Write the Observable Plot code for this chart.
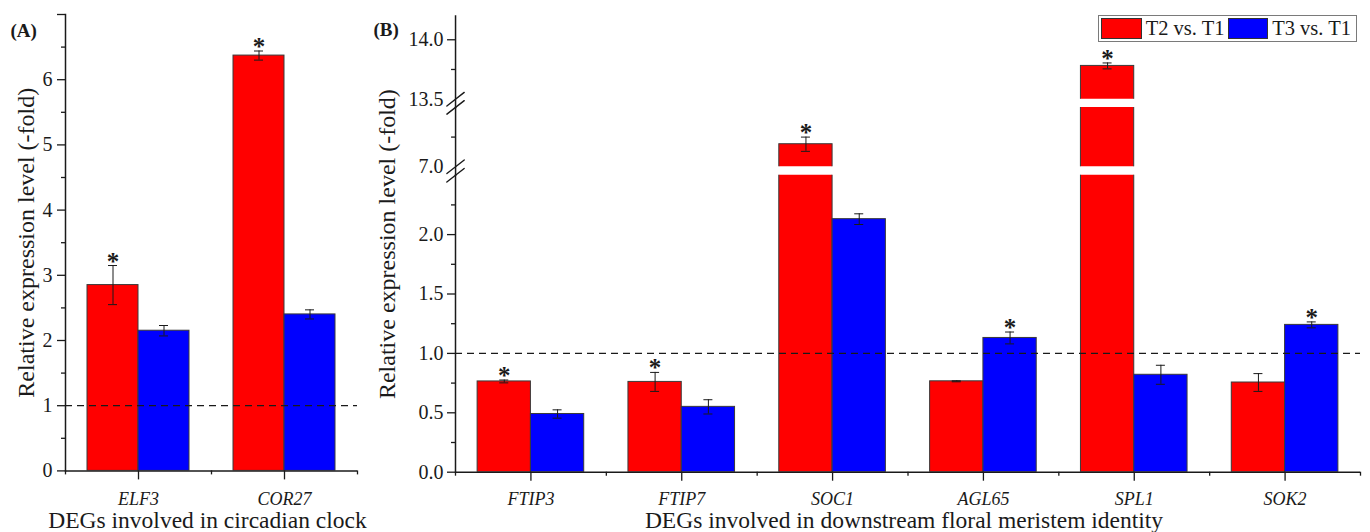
<!DOCTYPE html>
<html>
<head>
<meta charset="utf-8">
<script src="https://cdn.jsdelivr.net/npm/d3@7"></script>
<script src="https://cdn.jsdelivr.net/npm/@observablehq/plot@0.6"></script>
<style>
  html, body { margin: 0; padding: 0; background: #fff; }
  #chart { position: relative; width: 1370px; height: 532px; overflow: hidden; background: #fff;
           font-family: "Liberation Serif", serif; color: #1a1a1a; }
  #chart svg { position: absolute; overflow: visible; background: transparent !important; }
  #chart svg g[aria-label="x-axis tick label"] text { font-style: italic; }
  .legend { position: absolute; box-sizing: border-box; border: 1px solid #7a7a7a; background: #fff;
            display: flex; align-items: center; padding: 0 2px; font-size: 20.5px; line-height: 1;
            font-family: "Liberation Serif", serif; }
  .legend .sw { display: inline-block; box-sizing: border-box; width: 44px; height: 21px; border: 1px solid #333; }
  .legend .lab { margin: 0 3px 0 4px; white-space: nowrap; }
</style>
</head>
<body>
<div id="chart"></div>
<script>
// ---------------- data ----------------
const seriesNames = ["T2 vs. T1", "T3 vs. T1"];
const seriesColors = ["#ff0000", "#0000ff"];

// Panel A: circadian clock
const genesA = ["ELF3", "COR27"];
const t2A = [2.85, 6.37];
const t2AErr = [0.30, 0.07];
const t3A = [2.15, 2.40];
const t3AErr = [0.08, 0.07];
const sigT2A = [true, true];
const sigT3A = [false, false];
const majorTicksA = [0, 1, 2, 3, 4, 5, 6];
const minorTicksA = [0.5, 1.5, 2.5, 3.5, 4.5, 5.5, 6.5];
const domainA = [0, 7];

// Panel B: downstream floral meristem identity (broken y axis)
const genesB = ["FTIP3", "FTIP7", "SOC1", "AGL65", "SPL1", "SOK2"];
const t2B = [0.764, 0.76, 7.19, 0.765, 13.78, 0.755];
const t2BErr = [0.012, 0.08, 0.06, 0.004, 0.025, 0.075];
const t3B = [0.49, 0.55, 2.13, 1.13, 0.82, 1.24];
const t3BErr = [0.035, 0.06, 0.045, 0.05, 0.08, 0.025];
const sigT2B = [true, true, true, false, true, false];
const sigT3B = [false, false, false, true, false, true];
// axis segments (bottom to top)
const segDomains = [[0, 2.5], [7.0, 7.5], [13.5, 14.2]];
const segMajorTicks = [[0, 0.5, 1.0, 1.5, 2.0], [], [14.0]];
const segMinorTicks = [[0.25, 0.75, 1.25, 1.75, 2.25], [7.25], [13.75]];
const segBreakLabels = [[], [7.0], [13.5]];

const referenceLine = 1;
const yTitle = "Relative expression level (-fold)";
const xTitleA = "DEGs involved in circadian clock";
const xTitleB = "DEGs involved in downstream floral meristem identity";

// ---------------- helpers ----------------
const INK = "#1a1a1a";
const SERIF = "Liberation Serif";
const baseStyle = {fontFamily: SERIF, fontSize: "20px", background: "transparent", overflow: "visible", color: INK};
const F = {fontFamily: SERIF};

function makeRows(genes, v2, e2, s2, v3, e3, s3) {
  const rows = [];
  genes.forEach((g, i) => {
    rows.push({gene: g, s: 0, value: v2[i], err: e2[i], sig: s2[i]});
    rows.push({gene: g, s: 1, value: v3[i], err: e3[i], sig: s3[i]});
  });
  return rows;
}
const rowsA = makeRows(genesA, t2A, t2AErr, sigT2A, t3A, t3AErr, sigT3A);
const rowsB = makeRows(genesB, t2B, t2BErr, sigT2B, t3B, t3BErr, sigT3B);

function barMarks(rows, bw, pad) {
  return [0, 1].map(s => Plot.barY(rows.filter(d => d.s === s), {
    x: "gene", y: "value", fill: seriesColors[s], stroke: "#3a3a3a", strokeWidth: 1,
    insetLeft: s === 0 ? pad : bw / 2, insetRight: s === 0 ? bw / 2 : pad, clip: true
  }));
}

function errMarks(rows, bw, pad, lo, hi) {
  const barW = bw / 2 - pad;
  const capW = 9;
  const marks = [];
  [0, 1].forEach(s => {
    const r = rows.filter(d => d.s === s && d.value + d.err <= hi && d.value - d.err >= lo);
    const c = s === 0 ? pad + barW / 2 : bw / 2 + barW / 2;
    const dx = c - bw / 2;
    marks.push(Plot.ruleX(r, {x: "gene", y1: d => d.value - d.err, y2: d => d.value + d.err, dx, stroke: INK, strokeWidth: 1}));
    marks.push(Plot.tickY(r, {x: "gene", y: d => d.value + d.err, insetLeft: c - capW / 2, insetRight: bw - c - capW / 2, stroke: INK, strokeWidth: 1}));
    marks.push(Plot.tickY(r, {x: "gene", y: d => d.value - d.err, insetLeft: c - capW / 2, insetRight: bw - c - capW / 2, stroke: INK, strokeWidth: 1}));
    marks.push(Plot.text(r.filter(d => d.sig), {x: "gene", y: d => d.value + d.err, text: () => "*", dx, dy: -4, fontSize: 25, fontWeight: "bold", fill: INK, ...F}));
  });
  return marks;
}

const slashShape = {draw(context, l) { context.moveTo(0, 0); context.lineTo(0, -l); }};
function breakMark(v) {
  return Plot.vector([v], {y: d => d, frameAnchor: "left", length: 22, rotate: 52, anchor: "middle",
    shape: slashShape, stroke: INK, strokeWidth: 1.4});
}

const chart = document.getElementById("chart");
function place(svg, left, top) {
  svg.style.left = left + "px";
  svg.style.top = top + "px";
  chart.appendChild(svg);
}

// ---------------- Panel A ----------------
const bwA = (357 - 65) / genesA.length;
const padA = bwA / 2 - 51;
const plotA = Plot.plot({
  width: 370, height: 532, marginLeft: 65, marginRight: 13, marginTop: 14, marginBottom: 61.6,
  style: baseStyle,
  x: {type: "band", domain: genesA, padding: 0, round: false, label: null},
  y: {domain: domainA, label: null},
  marks: [
    ...barMarks(rowsA, bwA, padA),
    Plot.ruleY([referenceLine], {stroke: INK, strokeWidth: 1.2, strokeDasharray: "7,5"}),
    ...errMarks(rowsA, bwA, padA, domainA[0], domainA[1]),
    Plot.frame({anchor: "left", stroke: INK, strokeWidth: 1.5}),
    Plot.ruleY([domainA[0]], {stroke: INK, strokeWidth: 1.5}),
    Plot.axisY({ticks: majorTicksA, tickSize: 8, tickPadding: 5, tickFormat: "d", fontSize: 20, label: null, strokeWidth: 1.3, ...F}),
    Plot.axisY({ticks: [domainA[1]], tickSize: 8, tickFormat: () => "", label: null, strokeWidth: 1.3}),
    Plot.axisY({ticks: minorTicksA, tickSize: 4, tickFormat: () => "", label: null, strokeWidth: 1.3}),
    Plot.axisX({tickSize: 9, tickPadding: 12, fontSize: 18, fontStyle: "italic", label: null, strokeWidth: 1.3, ...F}),
    Plot.axisX({ticks: genesA, tickSize: 4, dx: -bwA / 2, tickFormat: () => "", label: null, strokeWidth: 1.3}),
    Plot.axisX({ticks: [genesA[genesA.length - 1]], tickSize: 4, dx: bwA / 2, tickFormat: () => "", label: null, strokeWidth: 1.3}),
    Plot.text([yTitle], {frameAnchor: "left", dx: -39, rotate: -90, textAnchor: "middle", fontSize: 24, fill: INK, ...F}),
    Plot.text([xTitleA], {frameAnchor: "bottom", dx: -4, dy: 57, lineAnchor: "bottom", textAnchor: "middle", fontSize: 23.5, fill: INK, ...F}),
    Plot.text(["(A)"], {frameAnchor: "top-left", dx: -55, dy: 9, textAnchor: "start", fontWeight: "bold", fontSize: 19, fill: INK, ...F})
  ]
});
place(plotA, 0, 0);

// ---------------- Panel B (three stacked segments) ----------------
const bwB = (1360 - 455) / genesB.length;
const padB = bwB / 2 - 53.3;
// [svgTop, svgHeight, marginTop, marginBottom]
const segLayout = [[170, 362, 4.7, 60.3], [100, 74.7, 6.9, 8.4], [0, 106.9, 15.5, 8.2]];

segDomains.forEach((dom, k) => {
  const [top, h, mt, mb] = segLayout[k];
  const isBottom = k === 0;
  const marks = [
    ...barMarks(rowsB, bwB, padB),
    ...(isBottom ? [Plot.ruleY([referenceLine], {stroke: INK, strokeWidth: 1.2, strokeDasharray: "7,5"})] : []),
    ...errMarks(rowsB, bwB, padB, dom[0], dom[1]),
    Plot.frame({anchor: "left", stroke: INK, strokeWidth: 1.5, insetBottom: isBottom ? 0 : -mb}),
    Plot.axisY({ticks: segMinorTicks[k], tickSize: 4, tickFormat: () => "", label: null, strokeWidth: 1.3})
  ];
  if (segMajorTicks[k].length)
    marks.push(Plot.axisY({ticks: segMajorTicks[k], tickSize: 8, tickPadding: 4, tickFormat: ".1f", fontSize: 20, label: null, strokeWidth: 1.3, ...F}));
  if (segBreakLabels[k].length)
    marks.push(Plot.axisY({ticks: segBreakLabels[k], tickSize: 0, tickPadding: 12, tickFormat: ".1f", fontSize: 20, label: null, ...F}));
  if (k > 0) marks.push(breakMark(dom[0]));
  if (k < segDomains.length - 1) marks.push(breakMark(dom[1]));
  if (isBottom) {
    marks.push(
      Plot.ruleY([dom[0]], {stroke: INK, strokeWidth: 1.5}),
      Plot.axisX({tickSize: 9, tickPadding: 10.7, fontSize: 18, fontStyle: "italic", label: null, strokeWidth: 1.3, ...F}),
      Plot.axisX({ticks: genesB, tickSize: 4, dx: -bwB / 2, tickFormat: () => "", label: null, strokeWidth: 1.3}),
      Plot.axisX({ticks: [genesB[genesB.length - 1]], tickSize: 4, dx: bwB / 2, tickFormat: () => "", label: null, strokeWidth: 1.3}),
      Plot.text([yTitle], {frameAnchor: "left", dx: -68, dy: -79.6, rotate: -90, textAnchor: "middle", fontSize: 24, fill: INK, ...F}),
      Plot.text([xTitleB], {frameAnchor: "bottom", dx: -4, dy: 55.7, lineAnchor: "bottom", textAnchor: "middle", fontSize: 23.5, fill: INK, ...F})
    );
  }
  if (k === segDomains.length - 1) {
    marks.push(Plot.text(["(B)"], {frameAnchor: "top-left", dx: -82, dy: 6.5, textAnchor: "start", fontWeight: "bold", fontSize: 19, fill: INK, ...F}));
  }
  const p = Plot.plot({
    width: 1000, height: h, marginLeft: 85, marginRight: 10, marginTop: mt, marginBottom: mb,
    style: baseStyle,
    x: {type: "band", domain: genesB, padding: 0, round: false, label: null, axis: isBottom ? undefined : null},
    y: {domain: dom, label: null},
    marks
  });
  place(p, 370, top);
});

// ---------------- legend ----------------
const legend = document.createElement("div");
legend.className = "legend";
legend.style.left = "1098px";
legend.style.top = "15px";
legend.style.width = "259px";
legend.style.height = "27px";
seriesNames.forEach((name, i) => {
  const sw = document.createElement("span");
  sw.className = "sw";
  sw.style.background = seriesColors[i];
  const lab = document.createElement("span");
  lab.className = "lab";
  lab.textContent = name;
  legend.appendChild(sw);
  legend.appendChild(lab);
});
chart.appendChild(legend);
</script>
</body>
</html>
